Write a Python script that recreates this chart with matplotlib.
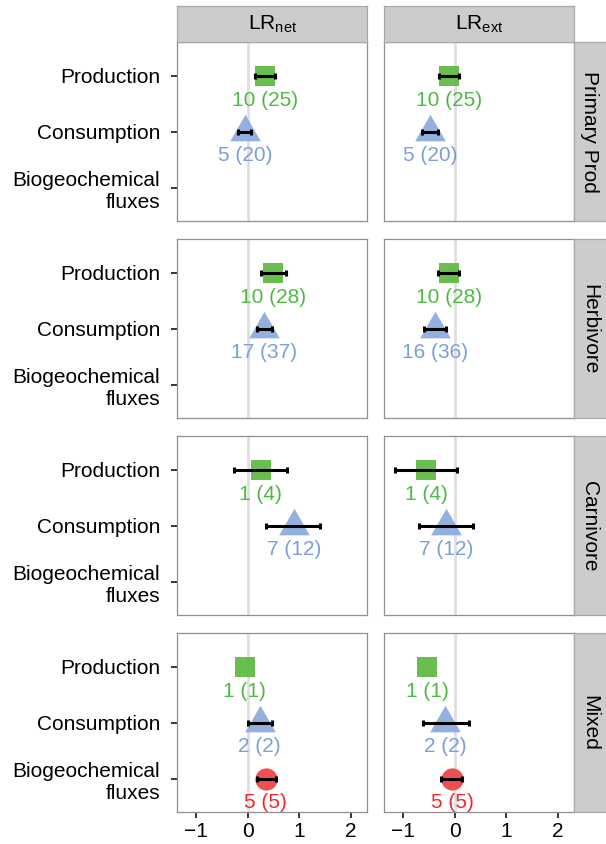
import matplotlib
matplotlib.use('Agg')
import matplotlib.pyplot as plt
import numpy as np

plt.rcParams['font.family'] = ['Liberation Sans', 'DejaVu Sans']
plt.rcParams['mathtext.fontset'] = 'custom'
plt.rcParams['mathtext.rm'] = 'Liberation Sans'

nan = np.nan
groups = ['Primary Prod', 'Herbivore', 'Carnivore', 'Mixed']
metrics = [r'LR$_\mathregular{net}$', r'LR$_\mathregular{ext}$']
responses = ['Production', 'Consumption', 'Biogeochemical\nfluxes']

# rows = trophic group, cols = response (Production, Consumption, Biogeochemical fluxes)
net_mean = [[0.33, -0.06, nan], [0.49, 0.32, nan], [0.25, 0.90, nan], [-0.06, 0.23, 0.35]]
net_lo = [[0.14, -0.20, nan], [0.25, 0.17, nan], [-0.27, 0.36, nan], [nan, 0.01, 0.17]]
net_hi = [[0.53, 0.07, nan], [0.74, 0.47, nan], [0.77, 1.41, nan], [nan, 0.47, 0.54]]
net_n = [['10 (25)', '5 (20)', ''], ['10 (28)', '17 (37)', ''], ['1 (4)', '7 (12)', ''], ['1 (1)', '2 (2)', '5 (5)']]

ext_mean = [[-0.11, -0.48, nan], [-0.11, -0.39, nan], [-0.56, -0.17, nan], [-0.54, -0.19, -0.05]]
ext_lo = [[-0.31, -0.64, nan], [-0.32, -0.59, nan], [-1.17, -0.69, nan], [nan, -0.62, -0.26]]
ext_hi = [[0.09, -0.33, nan], [0.09, -0.17, nan], [0.04, 0.36, nan], [nan, 0.27, 0.14]]
ext_n = [['10 (25)', '5 (20)', ''], ['10 (28)', '16 (36)', ''], ['1 (4)', '7 (12)', ''], ['1 (1)', '2 (2)', '5 (5)']]

tri = [(-1, -0.577), (1, -0.577), (0, 1.155)]
markers = ['s', tri, 'o']
msizes = [15, 25.5, 16]
mcolors = ['#62BA45', '#8DACDE', '#EE4646']
tcolors = ['#4DBA42', '#7C9FD8', '#EE2A2A']

W, H = 606, 844
fig = plt.figure(figsize=(W / 100, H / 100), dpi=100)


def px_axes(x0, y0, w, h):
    return fig.add_axes([x0 / W, 1 - (y0 + h) / H, w / W, h / H])


panel_x = [177.3, 384.3]
panel_w = 190
panel_h = 179
top0 = 42.4
step = 197
edge = '#8F8F8F'

data = [(net_mean, net_lo, net_hi, net_n), (ext_mean, ext_lo, ext_hi, ext_n)]

for i in range(4):
    top = top0 + i * step
    for j in range(2):
        mean, lo, hi, lab = data[j]
        ax = px_axes(panel_x[j], top, panel_w, panel_h)
        ax.set_xlim(-1.37, 2.32)
        ax.set_ylim(3.6, 0.4)
        ax.axvline(0, color='#DFDFDF', lw=2, zorder=0)
        for k in range(3):
            m = mean[i][k]
            if np.isnan(m):
                continue
            y = k + 1
            ax.plot(m, y, marker=markers[k], ms=msizes[k], color=mcolors[k],
                    mew=0, alpha=0.95, zorder=2)
            if not np.isnan(lo[i][k]):
                ax.errorbar(m, y, xerr=[[m - lo[i][k]], [hi[i][k] - m]], fmt='none',
                            ecolor='black', elinewidth=2.2, capsize=2.5, capthick=2.2,
                            zorder=3)
            ax.text(m, y + 0.43, lab[i][k], color=tcolors[k], ha='center',
                    va='center', fontsize=15, zorder=4)
        for s in ax.spines.values():
            s.set_color(edge)
            s.set_linewidth(0.9)
        ax.set_yticks([1, 2, 3])
        ax.set_xticks([-1, 0, 1, 2])
        if j == 0:
            ax.set_yticklabels(responses, fontsize=15, color='black')
            ax.tick_params(axis='y', length=4, width=1.1, pad=8.5)
        else:
            ax.set_yticklabels([])
            ax.tick_params(axis='y', length=0)
        if i == 3:
            ax.tick_params(axis='x', length=4, width=1.1, labelsize=15, pad=3,
                           colors='black')
        else:
            ax.set_xticklabels([])
            ax.tick_params(axis='x', length=0)

        if i == 0:
            st = px_axes(panel_x[j], 6, panel_w, top0 - 6)
            st.set_facecolor('#CCCCCC')
            st.set_xticks([])
            st.set_yticks([])
            for s in st.spines.values():
                s.set_color('#A8A8A8')
                s.set_linewidth(0.9)
            st.text(0.5, 0.5, metrics[j], ha='center', va='center', fontsize=15,
                    transform=st.transAxes)

    sr = px_axes(panel_x[1] + panel_w, top, W - panel_x[1] - panel_w + 2, panel_h)
    sr.set_facecolor('#CCCCCC')
    sr.set_xticks([])
    sr.set_yticks([])
    for s in sr.spines.values():
        s.set_color('#A8A8A8')
        s.set_linewidth(0.9)
    sr.text(0.45, 0.5, groups[i], ha='center', va='center', fontsize=15,
            rotation=-90, transform=sr.transAxes)

fig.savefig('out.png', dpi=100)
